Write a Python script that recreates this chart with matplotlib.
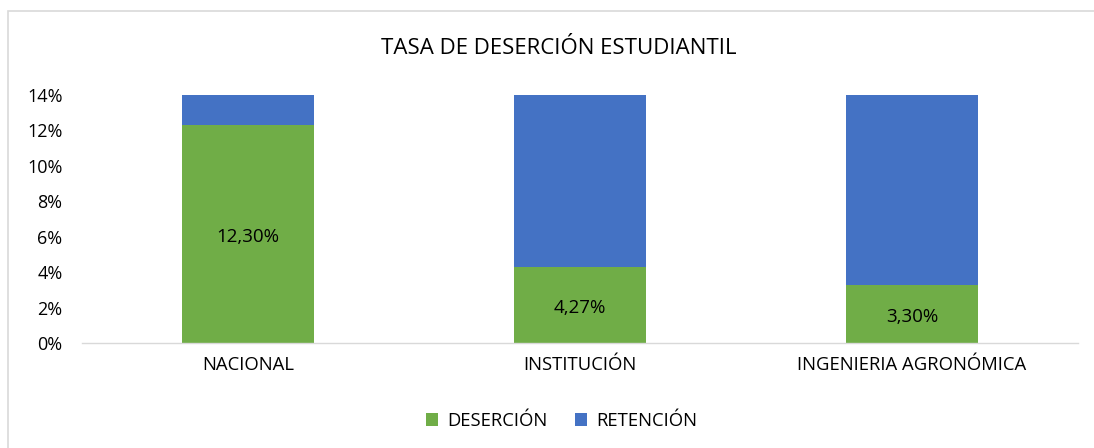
import matplotlib
matplotlib.use("Agg")
import matplotlib.pyplot as plt
import matplotlib.transforms as mtransforms
from matplotlib.patches import Rectangle

categories = ["NACIONAL", "INSTITUCIÓN", "INGENIERIA AGRONÓMICA"]
desercion = [12.30, 4.27, 3.30]
retencion = [87.70, 95.73, 96.70]
desercion_labels = ["12,30%", "4,27%", "3,30%"]
yticks = [0, 2, 4, 6, 8, 10, 12, 14]
ytick_labels = ["0%", "2%", "4%", "6%", "8%", "10%", "12%", "14%"]

plt.rcParams['font.family'] = ['Open Sans', 'DejaVu Sans']

W, H = 1094, 448
fig = plt.figure(figsize=(W / 100, H / 100), dpi=100)
ax = fig.add_axes([82 / W, 1 - 343 / H, (1078 - 82) / W, (343 - 95) / H])

green = "#70AD47"
blue = "#4472C4"
x = list(range(len(categories)))
ax.bar(x, desercion, width=0.4, color=green, label="DESERCIÓN", zorder=2)
ax.bar(x, retencion, width=0.4, bottom=desercion, color=blue, label="RETENCIÓN", zorder=2)

offset = mtransforms.offset_copy(ax.transData, fig=fig, x=0, y=-3, units="dots")
for xi, v, lab in zip(x, desercion, desercion_labels):
    ax.text(xi, v / 2, lab, ha="center", va="center", fontsize=13.5, color="#000000",
            transform=offset)

ax.set_xlim(-0.5, len(categories) - 0.5)
ax.set_ylim(0, 14)
ax.set_yticks(yticks)
ax.set_yticklabels(ytick_labels, fontsize=13)
ax.set_xticks(x)
ax.set_xticklabels(categories, fontsize=13.3)
ax.tick_params(axis="both", length=0, colors="#000000")
ax.tick_params(axis="y", pad=14)
ax.tick_params(axis="x", pad=9)
for s in ["top", "right", "left"]:
    ax.spines[s].set_visible(False)
ax.spines["bottom"].set_color("#D9D9D9")
ax.spines["bottom"].set_linewidth(1)

fig.text(559 / W, 1 - 48 / H, "TASA DE DESERCIÓN ESTUDIANTIL", ha="center", va="center",
         fontsize=16, color="#000000")

leg = fig.legend(loc="center", bbox_to_anchor=(562 / W, 1 - 421 / H), ncol=2, frameon=False,
                 fontsize=13.3, handlelength=0.65, handleheight=0.65, handletextpad=0.5,
                 columnspacing=1.5)

fig.patches.append(Rectangle((8 / W, -0.1), 1.2, 1 - 11 / H + 0.1, transform=fig.transFigure,
                             fill=False, edgecolor="#D9D9D9", linewidth=1.2))

fig.savefig("out.png", dpi=100)
